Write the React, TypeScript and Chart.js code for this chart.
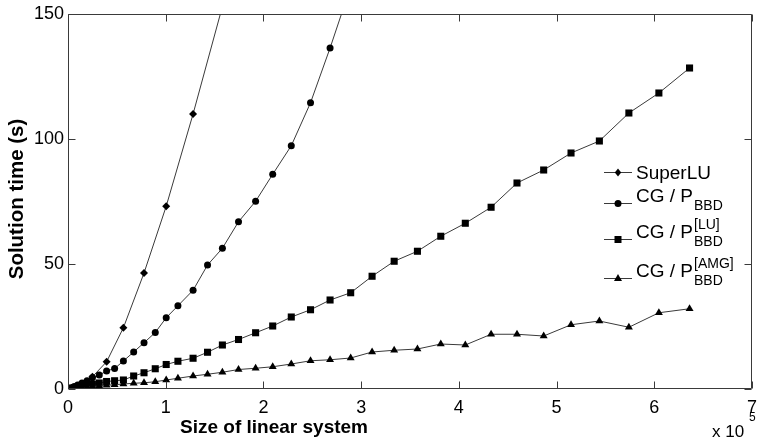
import React, { useEffect, useRef } from 'react';
import { Chart, registerables } from 'chart.js';
Chart.register(...registerables);

// System sizes (units of 10^5 unknowns)
const sizes = [0.004, 0.016, 0.036, 0.064, 0.099, 0.143, 0.195, 0.25, 0.32, 0.395, 0.477, 0.567, 0.672, 0.778, 0.893, 1.005, 1.125, 1.28, 1.428, 1.58, 1.745, 1.92, 2.095, 2.285, 2.482, 2.682, 2.893, 3.112, 3.338, 3.576, 3.815, 4.066, 4.33, 4.595, 4.868, 5.148, 5.438, 5.74, 6.047, 6.361];

const superluSizes = [0.016, 0.064, 0.143, 0.25, 0.395, 0.567, 0.778, 1.005, 1.28, 1.58];
const superluTimes = [0.05, 0.3, 1.6, 4.9, 10.9, 24.5, 46.4, 73.1, 110, 153];

const cgTimes = [0.05, 0.2, 0.5, 1.0, 1.6, 2.4, 3.3, 4.5, 5.6, 7.2, 8.2, 11.2, 14.8, 18.5, 22.6, 28.5, 33.3, 39.5, 49.6, 56.3, 66.9, 75.1, 85.9, 97.3, 114.5, 136.4, 161];

const luTimes = [0.02, 0.1, 0.25, 0.45, 0.7, 1.0, 1.4, 1.9, 2.4, 3.0, 3.3, 3.6, 5.2, 6.5, 8.1, 9.8, 11.1, 12.3, 14.7, 17.6, 19.8, 22.5, 25.2, 28.8, 31.7, 35.6, 38.5, 45.1, 51.1, 55.1, 61.1, 66.3, 72.7, 82.4, 87.6, 94.4, 99.2, 110.4, 118.4, 128.4];

const amgTimes = [0.01, 0.05, 0.12, 0.22, 0.35, 0.5, 0.7, 0.95, 1.2, 1.5, 1.7, 2.0, 2.3, 2.5, 2.9, 3.6, 4.3, 5.2, 5.9, 6.7, 7.8, 8.3, 8.9, 10.0, 11.3, 11.7, 12.4, 14.8, 15.5, 16.0, 18.0, 17.6, 21.9, 21.9, 21.2, 25.7, 27.2, 24.7, 30.5, 32.1];

const xTicks = [0, 1, 2, 3, 4, 5, 6, 7];
const yTicks = [0, 50, 100, 150];

const FONT = "'Liberation Sans', Arial, Helvetica, sans-serif";
const LINE = '#3a3a3a';

function pts(xs: number[], ys: number[]) {
  return ys.map((y, i) => ({ x: xs[i], y }));
}

function drawMarker(ctx: CanvasRenderingContext2D, style: string, x: number, y: number) {
  ctx.beginPath();
  if (style === 'rectRot') {
    ctx.moveTo(x, y - 4); ctx.lineTo(x + 3.2, y); ctx.lineTo(x, y + 4); ctx.lineTo(x - 3.2, y);
  } else if (style === 'circle') {
    ctx.arc(x, y, 3.5, 0, Math.PI * 2);
  } else if (style === 'rect') {
    ctx.rect(x - 3.5, y - 3.5, 7, 7);
  } else {
    ctx.moveTo(x, y - 4.5); ctx.lineTo(x + 4, y + 2.5); ctx.lineTo(x - 4, y + 2.5);
  }
  ctx.closePath();
  ctx.fill();
}

const overlay = {
  id: 'overlay',
  afterDraw(chart: any) {
    const { ctx, chartArea: a, scales } = chart;
    const xs = scales.x, ys = scales.y;
    ctx.save();
    const L = Math.round(a.left) + 0.5, R = Math.round(a.right) - 0.5;
    const T = Math.round(a.top) + 0.5, B = Math.round(a.bottom) - 0.5;
    ctx.strokeStyle = LINE;
    ctx.lineWidth = 1;
    ctx.beginPath();
    ctx.rect(L, T, R - L, B - T);
    xTicks.forEach((v) => {
      const px = Math.round(xs.getPixelForValue(v)) + 0.5;
      ctx.moveTo(px, B); ctx.lineTo(px, B - 7);
      ctx.moveTo(px, T); ctx.lineTo(px, T + 7);
    });
    yTicks.forEach((v) => {
      const py = Math.round(ys.getPixelForValue(v)) + 0.5;
      ctx.moveTo(L, py); ctx.lineTo(L + 7, py);
      ctx.moveTo(R, py); ctx.lineTo(R - 7, py);
    });
    ctx.stroke();

    // axis titles
    ctx.fillStyle = '#000';
    ctx.textAlign = 'center';
    ctx.textBaseline = 'alphabetic';
    ctx.font = `bold 19px ${FONT}`;
    ctx.fillText('Size of linear system', 274, 433);
    ctx.save();
    ctx.translate(23, 199);
    ctx.rotate(-Math.PI / 2);
    ctx.font = `bold 20.5px ${FONT}`;
    ctx.fillText('Solution time (s)', 0, 0);
    ctx.restore();

    // x 10^5
    ctx.textAlign = 'left';
    ctx.font = `17px ${FONT}`;
    ctx.fillText('x 10', 712, 437);
    ctx.font = `12px ${FONT}`;
    ctx.fillText('5', 749, 421);

    // legend
    const entries = [
      { style: 'rectRot', y: 172, sup: '', sub: '' },
      { style: 'circle', y: 203, sup: '', sub: 'BBD' },
      { style: 'rect', y: 239, sup: '[LU]', sub: 'BBD' },
      { style: 'triangle', y: 278, sup: '[AMG]', sub: 'BBD' },
    ];
    entries.forEach((e, i) => {
      ctx.strokeStyle = LINE;
      ctx.beginPath();
      ctx.moveTo(604, e.y + 0.5); ctx.lineTo(632, e.y + 0.5);
      ctx.stroke();
      ctx.fillStyle = '#000';
      drawMarker(ctx, e.style, 618, e.y + 0.5);
      ctx.textAlign = 'left';
      ctx.font = `19px ${FONT}`;
      if (i === 0) {
        ctx.fillText('SuperLU', 636, 179);
      } else {
        const base = e.y - 1;
        ctx.fillText('CG / P', 636, base);
        const w = ctx.measureText('CG / P').width;
        ctx.font = `14px ${FONT}`;
        ctx.fillText(e.sub, 636 + w + 1, base + 8);
        if (e.sup) ctx.fillText(e.sup, 636 + w + 1, base - 9);
      }
    });
    ctx.restore();
  },
};

export default function App() {
  const ref = useRef<HTMLCanvasElement>(null);
  useEffect(() => {
    const canvas = ref.current!;
    const common = {
      borderColor: LINE,
      borderWidth: 1,
      backgroundColor: '#000',
      pointBackgroundColor: '#000',
      pointBorderColor: '#000',
      pointBorderWidth: 0,
      tension: 0,
      fill: false,
    };
    const chart = new Chart(canvas, {
      type: 'line',
      data: {
        datasets: [
          { ...common, label: 'CG / P[AMG]BBD', data: pts(sizes, amgTimes), pointStyle: 'triangle', pointRadius: 4.6 },
          { ...common, label: 'CG / P[LU]BBD', data: pts(sizes, luTimes), pointStyle: 'rect', pointRadius: 5 },
          { ...common, label: 'CG / PBBD', data: pts(sizes, cgTimes), pointStyle: 'circle', pointRadius: 3.5 },
          { ...common, label: 'SuperLU', data: pts(superluSizes, superluTimes), pointStyle: 'rectRot', pointRadius: 4 },
        ] as any,
      },
      options: {
        animation: false,
        responsive: false,
        devicePixelRatio: 1,
        layout: { padding: { top: 14, right: 2, left: 0, bottom: 0 } },
        plugins: { legend: { display: false }, tooltip: { enabled: false } },
        scales: {
          x: {
            type: 'linear', min: 0, max: 7,
            afterBuildTicks: (s: any) => { s.ticks = xTicks.map((v) => ({ value: v })); },
            afterFit: (s: any) => { s.height = 56; s.paddingLeft = 0; s.paddingRight = 0; },
            grid: { display: false, drawTicks: false },
            border: { display: false },
            ticks: { color: '#000', font: { family: FONT, size: 18 }, padding: 8, maxRotation: 0 },
          },
          y: {
            type: 'linear', min: 0, max: 150,
            afterBuildTicks: (s: any) => { s.ticks = yTicks.map((v) => ({ value: v })); },
            afterFit: (s: any) => { s.width = 68; s.paddingTop = 0; s.paddingBottom = 0; },
            grid: { display: false, drawTicks: false },
            border: { display: false },
            ticks: { color: '#000', font: { family: FONT, size: 18 }, padding: 4 },
          },
        },
      } as any,
      plugins: [overlay],
    });
    return () => chart.destroy();
  }, []);
  return (
    <div style={{ position: 'absolute', left: 0, top: 0, width: 757, height: 445, background: '#fff' }}>
      <canvas ref={ref} width={757} height={445} />
    </div>
  );
}
